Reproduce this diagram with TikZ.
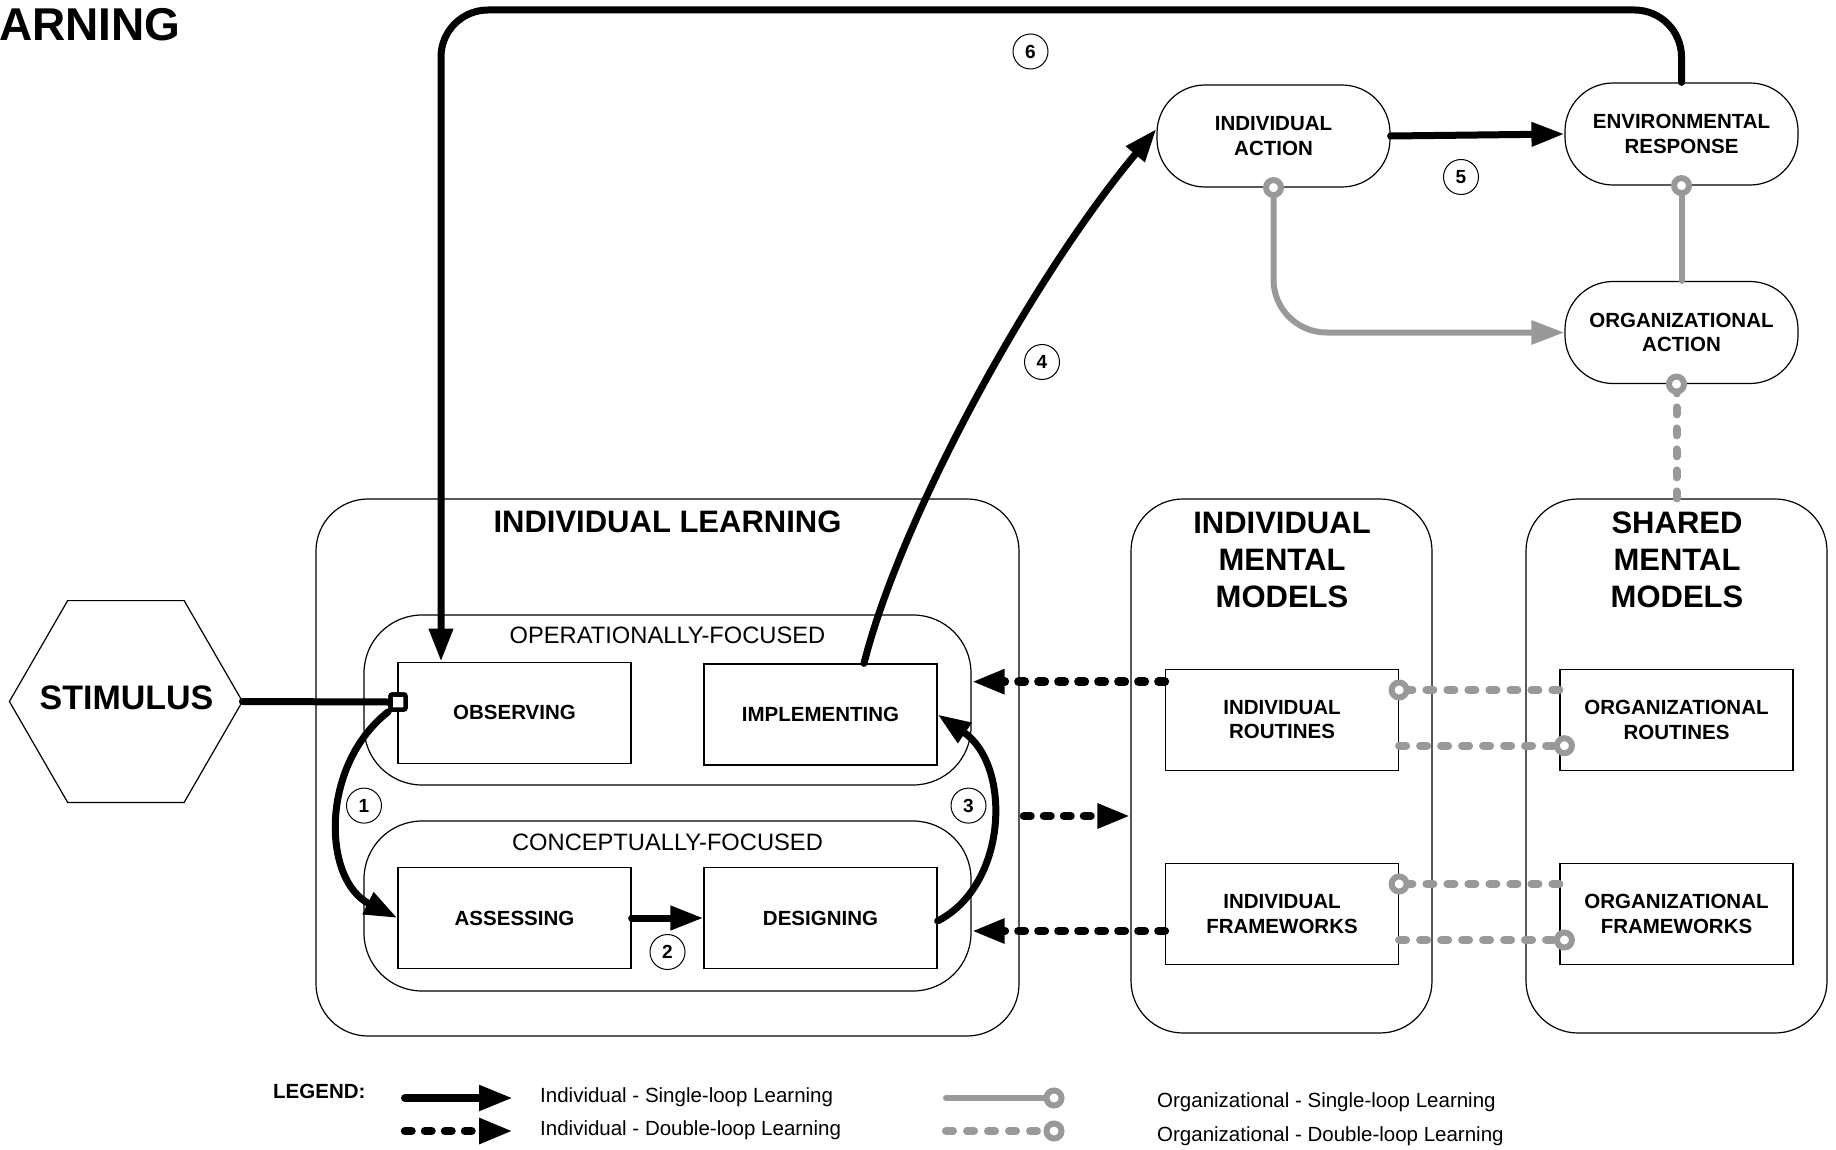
\documentclass[tikz,border=0pt]{standalone}
\usepackage{fontspec}
\setmainfont{Liberation Sans}
\usetikzlibrary{arrows.meta}
\definecolor{lgray}{HTML}{999999}
\begin{document}
\begin{tikzpicture}[x=1pt,y=-1pt,
  lbl/.style={font=\bfseries\fontsize{20.5}{24.5}\selectfont, align=center},
  task/.style={draw, line width=1.2pt, minimum width=233pt, minimum height=101pt, inner sep=0pt, lbl},
  pill/.style={task, rounded corners=48pt, minimum height=102pt},
  group/.style={draw, line width=1.2pt, inner sep=0pt},
  bigt/.style={font=\bfseries\fontsize{31}{37}\selectfont, align=center, inner sep=0pt},
  subt/.style={font=\fontsize{23.7}{28}\selectfont, inner sep=0pt},
  head/.style={-{Triangle[length=33pt,width=23pt]}},
  sln/.style={line width=7pt, line cap=round},
  sl/.style={sln, head},
  dl/.style={line width=8.5pt, line cap=round, dash pattern=on 6.5pt off 13.5pt, head},
  gs/.style={draw=lgray, line width=6pt, line cap=round},
  gd/.style={draw=lgray, line width=8pt, line cap=round, dash pattern=on 7pt off 14pt},
  gc/.style={draw=lgray, line width=6pt, fill=white},
  numc/.style={circle, draw, line width=1pt, minimum size=35pt, inner sep=0pt, fill=white, font=\bfseries\fontsize{19}{21}\selectfont},
  lt/.style={anchor=west, inner sep=0pt, font=\fontsize{20.5}{24}\selectfont}
]
\useasboundingbox (0,0) rectangle (1836,1150);

% title (cut off)
\node[anchor=base east, inner sep=0pt, font=\bfseries\fontsize{46}{50}\selectfont] (title) at (181,41) {ARNING};

% groups
\node[group, rounded corners=52pt, minimum width=703pt, minimum height=537pt] (il) at (667.5,767.5) {};
\node[group, rounded corners=58pt, minimum width=607pt, minimum height=170pt] (opf) at (667.5,700) {};
\node[group, rounded corners=58pt, minimum width=607pt, minimum height=170pt] (cof) at (667.5,906) {};
\node[group, rounded corners=52pt, minimum width=301pt, minimum height=534pt] (imm) at (1281.5,766) {};
\node[group, rounded corners=52pt, minimum width=301pt, minimum height=534pt] (smm) at (1676.5,766) {};

\node[bigt] (ilt) at (667.5,522) {INDIVIDUAL LEARNING};
\node[bigt] (immt) at (1282,560) {INDIVIDUAL\\MENTAL\\MODELS};
\node[bigt] (smmt) at (1677,560) {SHARED\\MENTAL\\MODELS};
\node[subt] (opft) at (667.5,635) {OPERATIONALLY-FOCUSED};
\node[subt] (coft) at (667.5,842) {CONCEPTUALLY-FOCUSED};

% boxes
\node[task] (ob) at (514.5,712.7) {OBSERVING};
\node[task] (im) at (820.5,714.5) {IMPLEMENTING};
\node[task] (as) at (514.5,918) {ASSESSING};
\node[task] (de) at (820.5,918) {DESIGNING};
\node[task] (ir) at (1282,719.7) {INDIVIDUAL\\ROUTINES};
\node[task] (ifw) at (1282,914) {INDIVIDUAL\\FRAMEWORKS};
\node[task] (orr) at (1676.5,720) {ORGANIZATIONAL\\ROUTINES};
\node[task] (orf) at (1676.5,914) {ORGANIZATIONAL\\FRAMEWORKS};
\node[pill] (ia) at (1273.5,136) {INDIVIDUAL\\ACTION};
\node[pill] (er) at (1681.5,134) {ENVIRONMENTAL\\RESPONSE};
\node[pill] (oa) at (1681.5,332.5) {ORGANIZATIONAL\\ACTION};

% stimulus hexagon
\draw[line width=1.2pt] (9.4,701.5) -- (67.65,600.6) -- (184.15,600.6) -- (242.4,701.5)
      -- (184.15,802.4) -- (67.65,802.4) -- cycle;
\coordinate (stimR) at (242.4,701.5);
\node[inner sep=0pt, font=\bfseries\fontsize{34}{40}\selectfont] (stim) at (126.5,698) {STIMULUS};

% individual single-loop arrows
\node[draw, line width=4.5pt, fill=white, minimum size=15pt, inner sep=0pt, rounded corners=2pt] (sq) at (398,702) {};
\draw[sln] (stimR) -- (sq.west);
\draw[sl] (sq.south west) .. controls (320,765) and (322,880) .. (as.west);
\draw[sl] (as.east) -- (de.west);
\draw[sl] ([yshift=-3pt]de.east) .. controls (1008,885) and (1012,765) .. (im.east);
\draw[sl] ([xshift=43.5pt]im.north) .. controls (900,520) and (1030,280) .. ([yshift=7pt]ia.west);
\draw[sl] (ia.east) -- (er.west);
\coordinate (top) at (441,10);
\draw[sl, rounded corners=47pt] (er.north) |- (top) -- (top |- ob.north);
\node[draw, line width=4.5pt, fill=white, minimum size=15pt, inner sep=0pt, rounded corners=2pt] (sq2) at (sq) {};

% individual double-loop arrows
\draw[dl] ([yshift=38pt]ir.west) -- ([yshift=38pt]ir.west -| opf.east);
\coordinate (m1) at (1024,816);
\draw[dl] (m1) -- (m1 -| imm.west);
\draw[dl] ([yshift=-17pt]ifw.west) -- ([yshift=-17pt]ifw.west -| cof.east);

% organizational links
\draw[gs, head, rounded corners=53pt] (ia.south) |- (oa.west);
\draw[gc] (ia.south) circle[radius=7.5pt];
\draw[gs] (oa.north) -- (er.south);
\draw[gc] (er.south) circle[radius=7.5pt];
\coordinate (oab) at (smm.north |- oa.south);
\draw[gd] (smm.north) -- (oab);
\draw[gc] (oab) circle[radius=7.5pt];

\coordinate (a1) at ([yshift=30pt]orr.west -| ir.east);
\draw[gd] ([yshift=30pt]orr.west) -- (a1);
\draw[gc] (a1) circle[radius=7.5pt];
\coordinate (b1) at ([yshift=-26pt]ir.east -| orr.west);
\draw[gd] ([yshift=-26pt]ir.east) -- ([xshift=5pt]b1);
\draw[gc] ([xshift=5pt]b1) circle[radius=7.5pt];
\coordinate (c1) at ([yshift=30pt]orf.west -| ifw.east);
\draw[gd] ([yshift=30pt]orf.west) -- (c1);
\draw[gc] (c1) circle[radius=7.5pt];
\coordinate (d1) at ([yshift=-26pt]ifw.east -| orf.west);
\draw[gd] ([yshift=-26pt]ifw.east) -- ([xshift=5pt]d1);
\draw[gc] ([xshift=5pt]d1) circle[radius=7.5pt];

% numbers
\node[numc] (n1) at (364,805.6) {1};
\node[numc] (n2) at (667.5,952) {2};
\node[numc] (n3) at (968.5,805.6) {3};
\node[numc] (n4) at (1042,362) {4};
\node[numc] (n5) at (1461,177) {5};
\node[numc] (n6) at (1030.5,51.5) {6};

% legend
\node[anchor=west, inner sep=0pt, font=\bfseries\fontsize{20.5}{24}\selectfont] (lg) at (273,1091) {LEGEND:};
\coordinate (l1a) at (405,1098); \coordinate (l1b) at (513,1098);
\coordinate (l2a) at (405,1131); \coordinate (l2b) at (513,1131);
\coordinate (l3a) at (946,1098); \coordinate (l3b) at (1054,1098);
\coordinate (l4a) at (946,1131); \coordinate (l4b) at (1054,1131);
\draw[line width=8pt, line cap=round, -{Triangle[length=34pt,width=24pt]}] (l1a) -- (l1b);
\draw[line width=8.5pt, line cap=round, dash pattern=on 6.5pt off 13.5pt, -{Triangle[length=34pt,width=24pt]}] (l2a) -- (l2b);
\draw[gs] (l3a) -- (l3b);
\draw[gc] (l3b) circle[radius=7.5pt];
\draw[gd] (l4a) -- (l4b);
\draw[gc] (l4b) circle[radius=7.5pt];
\node[lt] (t1) at (540,1097) {Individual - Single-loop Learning};
\node[lt] (t2) at (540,1130) {Individual - Double-loop Learning};
\node[lt] (t3) at (1157,1102) {Organizational - Single-loop Learning};
\node[lt] (t4) at (1157,1136) {Organizational - Double-loop Learning};
\end{tikzpicture}
\end{document}
